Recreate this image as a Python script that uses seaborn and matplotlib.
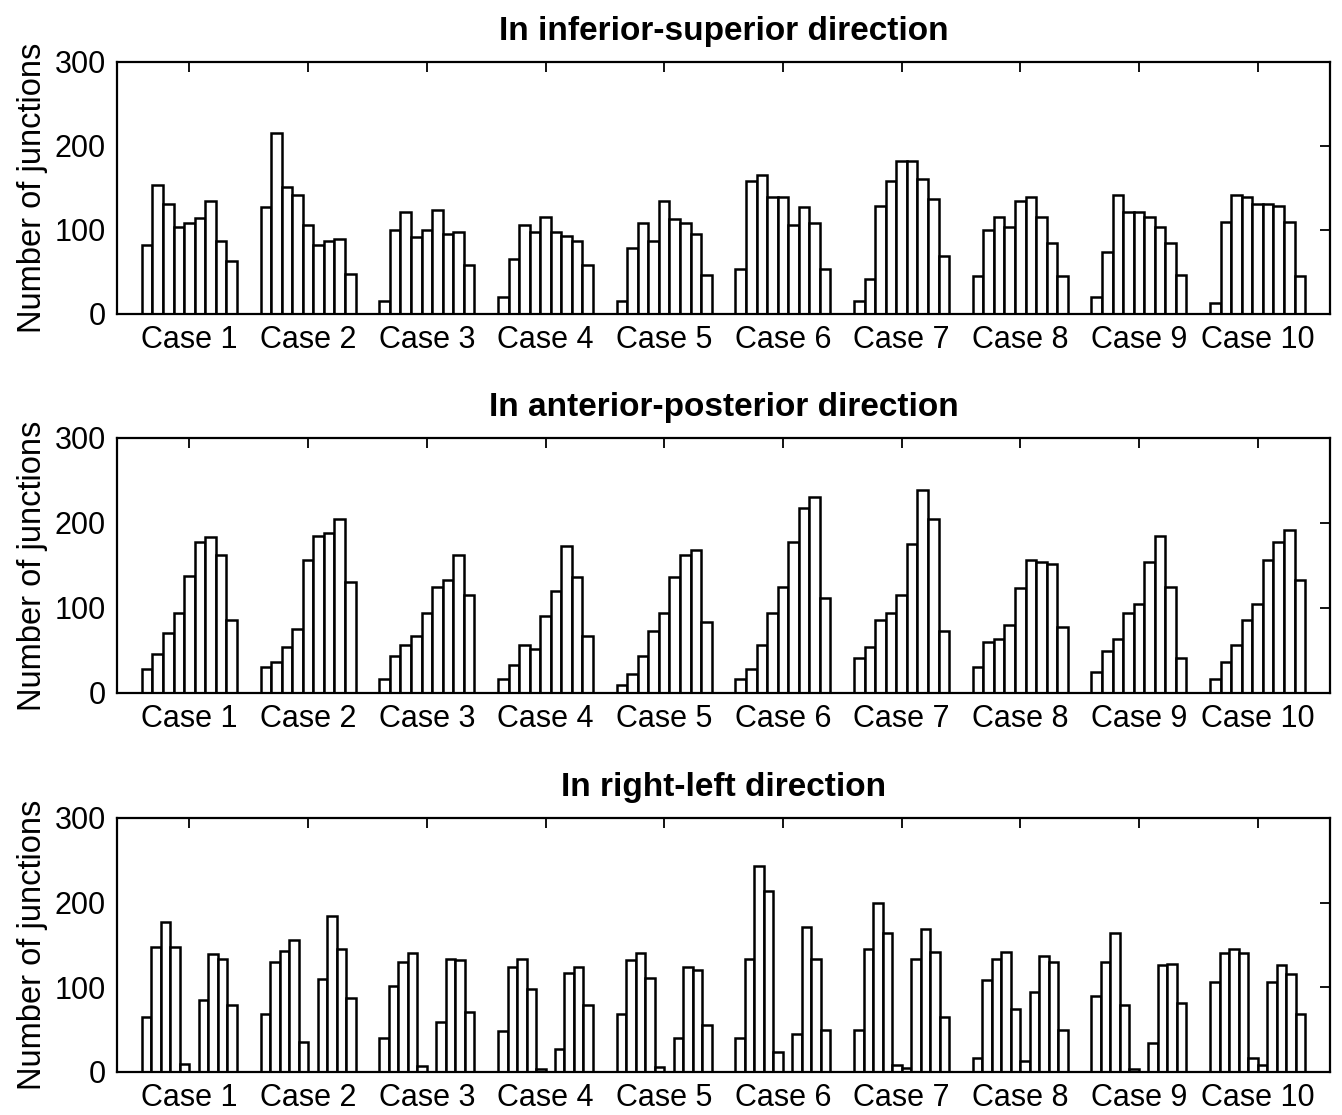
import numpy as np
import pandas as pd
import matplotlib
matplotlib.use("Agg")
import matplotlib.pyplot as plt
import seaborn as sns

cases = ["Case %d" % i for i in range(1, 11)]

# junction counts per bin, one list per case
inferior_superior = [
    [82, 153, 131, 103, 108, 114, 134, 87, 63],
    [127, 216, 151, 142, 106, 82, 87, 89, 48],
    [16, 100, 121, 92, 100, 124, 95, 98, 58],
    [20, 66, 106, 98, 116, 98, 93, 87, 58],
    [16, 78, 108, 87, 134, 113, 108, 95, 47],
    [53, 158, 166, 139, 139, 106, 127, 108, 53],
    [16, 42, 129, 158, 182, 182, 161, 137, 69],
    [45, 100, 116, 103, 134, 139, 116, 84, 45],
    [20, 74, 142, 121, 121, 116, 103, 84, 47],
    [13, 110, 142, 139, 131, 131, 129, 110, 45],
]

anterior_posterior = [
    [28, 46, 70, 94, 138, 178, 183, 162, 86],
    [30, 36, 54, 75, 157, 185, 188, 205, 131],
    [17, 44, 57, 67, 94, 125, 133, 162, 115],
    [17, 33, 57, 52, 91, 120, 173, 137, 67],
    [9, 22, 44, 73, 94, 137, 162, 168, 83],
    [17, 28, 57, 94, 125, 178, 218, 231, 112],
    [41, 54, 86, 94, 115, 175, 239, 205, 73],
    [30, 60, 64, 80, 123, 157, 154, 152, 78],
    [25, 49, 63, 94, 105, 154, 185, 125, 41],
    [17, 36, 57, 86, 105, 157, 178, 192, 133],
]

right_left = [
    [65, 148, 177, 148, 9, 0, 85, 139, 134, 79],
    [69, 130, 143, 156, 35, 0, 110, 184, 145, 87],
    [40, 101, 130, 140, 7, 0, 59, 134, 132, 71],
    [48, 124, 134, 98, 3, 0, 27, 117, 124, 79],
    [69, 132, 140, 111, 6, 0, 40, 124, 121, 55],
    [40, 134, 243, 214, 24, 0, 45, 171, 134, 50],
    [50, 145, 200, 164, 8, 5, 134, 169, 142, 65],
    [16, 109, 134, 142, 74, 13, 95, 137, 130, 50],
    [90, 130, 164, 79, 3, 0, 34, 126, 127, 82],
    [106, 140, 145, 140, 16, 8, 106, 126, 116, 69],
]

titles = ["In inferior-superior direction",
          "In anterior-posterior direction",
          "In right-left direction"]
yticks = [0, 100, 200, 300]

sns.set_theme(style="white")
plt.rcParams['font.family'] = ['Liberation Sans', 'DejaVu Sans']


def to_frame(counts):
    rows = []
    for case, vals in zip(cases, counts):
        for j, v in enumerate(vals):
            rows.append({"case": case, "bin": str(j), "count": v})
    return pd.DataFrame(rows)


def draw_panel(ax, counts, title):
    df = to_frame(counts)
    nbins = len(counts[0])
    sns.barplot(data=df, x="case", y="count", hue="bin",
                hue_order=[str(j) for j in range(nbins)],
                palette=["white"] * nbins, saturation=1,
                edgecolor="black", linewidth=1.8, width=0.8,
                errorbar=None, legend=False, ax=ax)
    ax.set_xlim(-0.61, 9.61)
    ax.set_ylim(0, 300)
    ax.set_yticks(yticks)
    ax.set_xticks(range(len(cases)))
    ax.set_xticklabels(cases)
    ax.set_xlabel("")
    ax.set_ylabel("Number of junctions", fontsize=23.5, labelpad=5,
                  color="black")
    ax.set_title(title, fontsize=24, fontweight="bold", pad=16, color="black")
    ax.tick_params(direction="in", length=7, width=1.3, top=True, right=True,
                   labelsize=22, pad=8, colors="black")
    for s in ax.spines.values():
        s.set_visible(True)
        s.set_color("black")
        s.set_linewidth(1.6)


fig = plt.figure(figsize=(13.42, 11.15), dpi=100)
positions = [
    [0.0872, 0.7184, 0.9039, 0.2260],
    [0.0872, 0.3785, 0.9039, 0.2287],
    [0.0872, 0.0386, 0.9039, 0.2278],
]
for pos, counts, title in zip(positions,
                              [inferior_superior, anterior_posterior, right_left],
                              titles):
    ax = fig.add_axes(pos)
    draw_panel(ax, counts, title)

plt.savefig("out.png", dpi=100, facecolor="white")
plt.close()
